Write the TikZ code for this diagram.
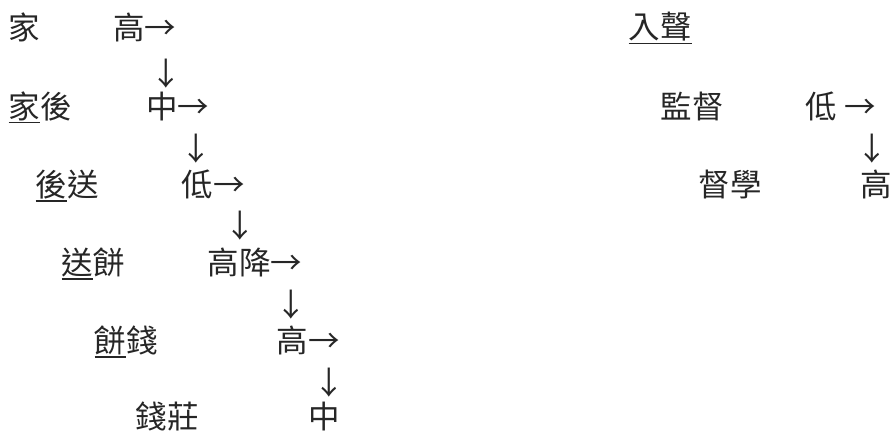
\documentclass[tikz,border=0pt]{standalone}
\usepackage{fontspec}
\newfontfamily\cjk{Noto Sans CJK TC}
\newcommand\myul[1]{\setbox0\hbox{#1}\rlap{\rule[-5.5pt]{\wd0}{1.5pt}}\box0}
\begin{document}
\begin{tikzpicture}[x=1pt,y=-1pt,
  txt/.style={anchor=base west,inner sep=0pt,text=black!85,font=\cjk\fontsize{31.5pt}{31.5pt}\selectfont},
  dn/.style={anchor=center,inner sep=0pt,text=black!85,font=\cjk\fontsize{31.5pt}{31.5pt}\selectfont}]
\useasboundingbox (0,0) rectangle (891,433);
% left column
\node[txt] (w1) at (8.5,40) {家};
\node[txt] (t1) at (113,40) {高→};
\node[dn]  (d1) at (166,74) {↓};
\node[txt] (w2) at (8.5,118) {\myul{家}後};
\node[txt] (t2) at (146,118) {中→};
\node[dn]  (d2) at (196,149) {↓};
\node[txt] (w3) at (35.5,196) {\myul{後}送};
\node[txt] (t3) at (181.5,196) {低→};
\node[dn]  (d3) at (240,226) {↓};
\node[txt] (w4) at (61.5,274) {\myul{送}餅};
\node[txt] (t4) at (207.5,274) {高降→};
\node[dn]  (d4) at (291,305) {↓};
\node[txt] (w5) at (94.5,352) {\myul{餅}錢};
\node[txt] (t5) at (276.5,352) {高→};
\node[dn]  (d5) at (329,383) {↓};
\node[txt] (w6) at (135.5,428) {錢莊};
\node[txt] (t6) at (308.5,428) {中};
% right column
\node[txt] (h)  at (628.5,39) {\myul{入聲}};
\node[txt] (r1) at (660.5,118) {監督};
\node[txt] (s1) at (805.5,118) {低 →};
\node[dn]  (d6) at (872,149) {↓};
\node[txt] (r2) at (698.5,196) {督學};
\node[txt] (s2) at (860.5,196) {高};
\end{tikzpicture}
\end{document}
